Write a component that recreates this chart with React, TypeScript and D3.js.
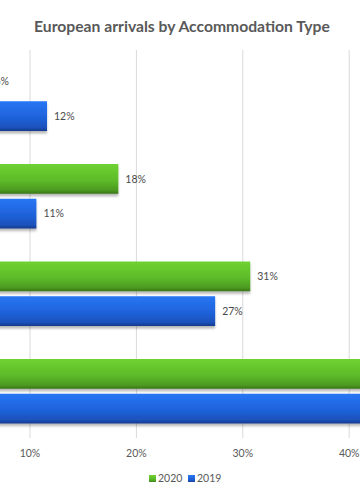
import * as d3 from 'd3'

// categories top → bottom (names sit left of the visible crop)
const categories = ['Other', 'Self-catering', 'Private', 'Hotels']
const series = ['2020', '2019']
const values2020 = [0.06, 0.183, 0.307, 0.44]
const values2019 = [0.116, 0.106, 0.274, 0.42]
const ticks = [0, 0.1, 0.2, 0.3, 0.4, 0.5]

const W = 360, H = 500
const PLOT = { top: 50, bottom: 440 }

const x = d3.scaleLinear().domain([0, 0.4]).range([-76.4, 349.2])
const y = d3.scaleBand<string>().domain(categories).range([PLOT.top, PLOT.bottom])
const inner = d3.scaleBand<string>().domain(series).range([16.5, y.bandwidth() - 16.5]).paddingInner(0.143)

const fmt = d3.format('.0%')
const FONT = 'Lato, "Open Sans", sans-serif'
const TXT = '#595959'

export default function App() {
  const rows = categories.flatMap((c, i) => [
    { cat: c, s: '2020', v: values2020[i] },
    { cat: c, s: '2019', v: values2019[i] },
  ])
  const legendX = [149, 188]

  return (
    <svg width={W} height={H} style={{ position: 'absolute', left: 0, top: 0, background: '#fff' }}>
      <defs>
        <linearGradient id="g2020" x1="0" y1="0" x2="0" y2="1">
          <stop offset="0%" stopColor="#6fd231" />
          <stop offset="55%" stopColor="#5dbb29" />
          <stop offset="88%" stopColor="#4c9a21" />
          <stop offset="100%" stopColor="#3a7418" />
        </linearGradient>
        <linearGradient id="g2019" x1="0" y1="0" x2="0" y2="1">
          <stop offset="0%" stopColor="#2776f4" />
          <stop offset="55%" stopColor="#1f62da" />
          <stop offset="88%" stopColor="#1b51bb" />
          <stop offset="100%" stopColor="#153a8c" />
        </linearGradient>
        <filter id="shadow" x="-5%" y="-20%" width="110%" height="150%">
          <feDropShadow dx="0" dy="2.5" stdDeviation="1.2" floodColor="#000" floodOpacity="0.28" />
        </filter>
      </defs>

      <text x={182} y={32} textAnchor="middle" fontFamily={FONT} fontWeight="bold" fontSize={15.7} fill={TXT}>
        European arrivals by Accommodation Type
      </text>

      {/* gridlines */}
      {ticks.map((t) => (
        <line key={t} x1={x(t)} x2={x(t)} y1={PLOT.top} y2={PLOT.bottom - 2} stroke="#d9d9d9" strokeWidth={1} />
      ))}

      {/* bars */}
      {rows.map((r) => {
        const yy = y(r.cat)! + inner(r.s)!
        return (
          <g key={r.cat + r.s}>
            <rect x={x(0)} y={yy} width={x(r.v) - x(0)} height={inner.bandwidth()}
              fill={`url(#g${r.s})`} filter="url(#shadow)" />
            <text x={x(r.v) + 7} y={yy + inner.bandwidth() / 2} dy="0.35em"
              fontFamily={FONT} fontSize={10.5} fill="#4a4a4a">{fmt(r.v)}</text>
          </g>
        )
      })}

      {/* axis labels */}
      {ticks.map((t) => (
        <text key={'l' + t} x={x(t)} y={457} textAnchor="middle" fontFamily={FONT} fontSize={10.5} fill={TXT}>
          {fmt(t)}
        </text>
      ))}

      {/* legend */}
      {series.map((s, i) => (
        <g key={s} transform={`translate(${legendX[i]},475)`}>
          <rect width={7} height={7} fill={`url(#g${s})`} />
          <text x={9} y={3.5} dy="0.35em" fontFamily={FONT} fontSize={10.5} fill={TXT}>{s}</text>
        </g>
      ))}
    </svg>
  )
}
